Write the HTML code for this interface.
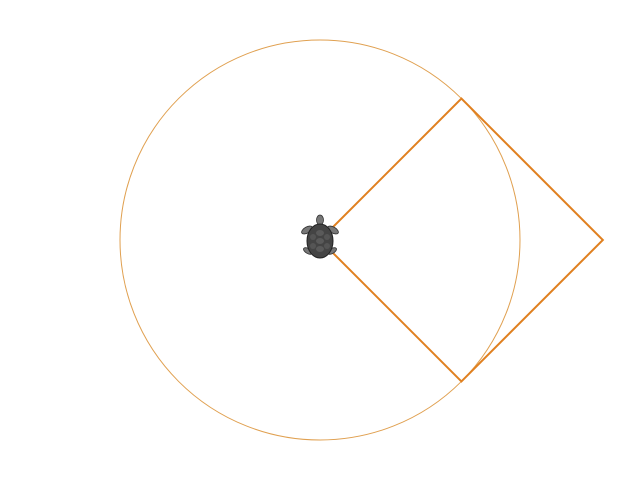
<!DOCTYPE html>
<html><head><meta charset="utf-8"><style>html,body{margin:0;padding:0;background:#fff;}svg{display:block}</style></head>
<body>
<svg id="c" width="640" height="480">
<circle id="circ" fill="none" stroke="#e0a050" stroke-width="1"/>
<polyline id="sq" fill="none" stroke="#e08020" stroke-width="2" stroke-linejoin="miter"/>
<g id="turtle" transform="translate(320,241)">
<ellipse cx="0" cy="-21" rx="3.5" ry="5" fill="#777" stroke="#333" stroke-width="0.8"/>
<ellipse cx="-13" cy="-11" rx="6" ry="3" transform="rotate(-30 -13 -11)" fill="#777" stroke="#333" stroke-width="0.8"/>
<ellipse cx="13" cy="-11" rx="6" ry="3" transform="rotate(30 13 -11)" fill="#777" stroke="#333" stroke-width="0.8"/>
<ellipse cx="-12" cy="10" rx="5" ry="2.5" transform="rotate(30 -12 10)" fill="#777" stroke="#333" stroke-width="0.8"/>
<ellipse cx="12" cy="10" rx="5" ry="2.5" transform="rotate(-30 12 10)" fill="#777" stroke="#333" stroke-width="0.8"/>
<ellipse cx="0" cy="0" rx="13" ry="17" fill="#444" stroke="#222" stroke-width="1"/>
<ellipse cx="0" cy="-8" rx="4" ry="3" fill="#5a5a5a"/>
<ellipse cx="0" cy="0" rx="4" ry="3" fill="#5a5a5a"/>
<ellipse cx="0" cy="8" rx="4" ry="3" fill="#5a5a5a"/>
<ellipse cx="-7" cy="-4" rx="3" ry="3" fill="#555"/>
<ellipse cx="7" cy="-4" rx="3" ry="3" fill="#555"/>
<ellipse cx="-7" cy="5" rx="3" ry="3" fill="#555"/>
<ellipse cx="7" cy="5" rx="3" ry="3" fill="#555"/>
</g>
</svg>
<script>
const origin = [320, 240];
const circleRadius = [200];
const startHeading = [45];
const moves = [200, 200, 200, 200];
const turns = [90, 90, 90, 90];
const circ = document.getElementById('circ');
circ.setAttribute('cx', origin[0]);
circ.setAttribute('cy', origin[1]);
circ.setAttribute('r', circleRadius[0]);
let x = origin[0], y = origin[1], h = startHeading[0];
const pts = [[x, y]];
for (let i = 0; i < moves.length; i++) {
  const a = h * Math.PI / 180;
  x += moves[i] * Math.cos(a);
  y -= moves[i] * Math.sin(a);
  pts.push([x, y]);
  h -= turns[i];
}
document.getElementById('sq').setAttribute('points', pts.map(p => p[0].toFixed(2) + ',' + p[1].toFixed(2)).join(' '));
</script>
</body></html>
